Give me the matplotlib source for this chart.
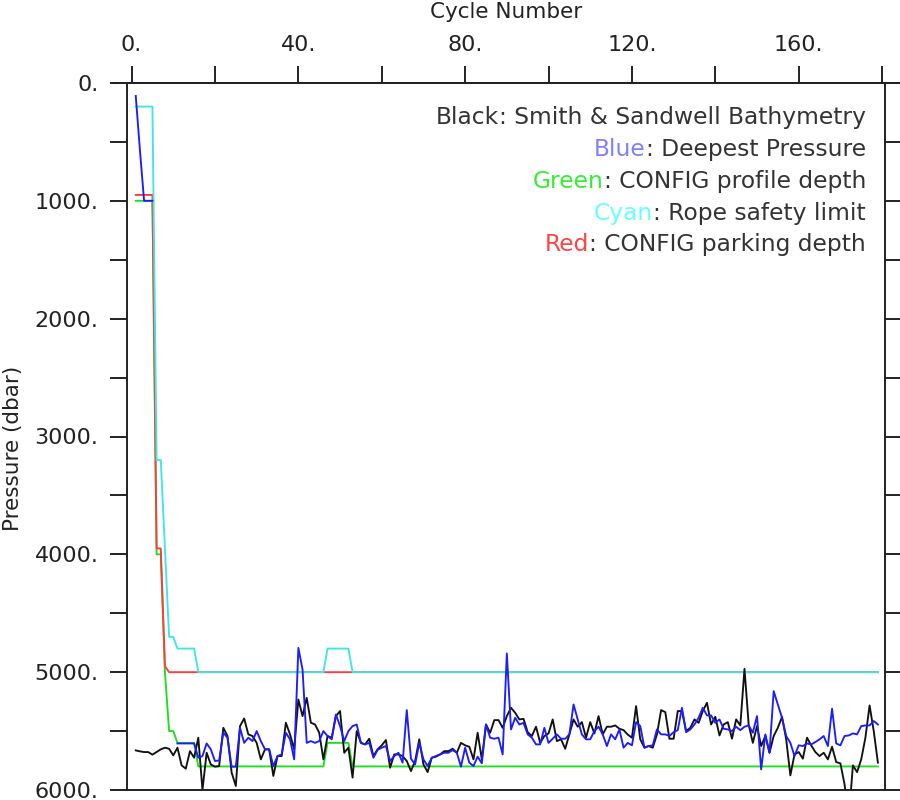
import numpy as np
import matplotlib
matplotlib.use("Agg")
import matplotlib.pyplot as plt
from matplotlib.ticker import MultipleLocator, FuncFormatter
from matplotlib.lines import Line2D

# ---------------- data ----------------
cycles = np.arange(1, 180)

bathymetry = [
    5664, 5672, 5678, 5678, 5700, 5678, 5655, 5641, 5650, 5706,
    5641, 5791, 5819, 5670, 5726, 5556, 6000, 5684, 5783, 5802,
    5797, 5472, 5542, 5853, 5966, 5458, 5393, 5528, 5542, 5600,
    5740, 5655, 5655, 5881, 5712, 5712, 5429, 5528, 5655, 5232,
    5373, 5218, 5429, 5444, 5514, 5740, 5542, 5556, 5373, 5330,
    5684, 5641, 5895, 5500, 5600, 5613, 5565, 5712, 5655, 5621,
    5576, 5811, 5698, 5698, 5712, 5754, 5839, 5754, 5570, 5783,
    5848, 5726, 5717, 5698, 5670, 5670, 5650, 5684, 5600, 5621,
    5633, 5740, 5514, 5740, 5444, 5514, 5407, 5407, 5472, 5373,
    5302, 5345, 5401, 5396, 5509, 5542, 5463, 5600, 5542, 5520,
    5401, 5585, 5570, 5650, 5528, 5401, 5463, 5424, 5556, 5424,
    5520, 5373, 5528, 5463, 5463, 5452, 5480, 5492, 5530, 5556,
    5288, 5570, 5641, 5627, 5641, 5528, 5322, 5339, 5565, 5565,
    5330, 5330, 5500, 5472, 5401, 5430, 5330, 5260, 5444, 5379,
    5537, 5444, 5424, 5565, 5401, 5452, 4972, 5444, 5600, 5458,
    5627, 5542, 5684, 5542, 5472, 5379, 5570, 5876, 5698, 5678,
    5734, 5556, 5621, 5678, 5712, 5684, 5740, 5633, 5763, 5774,
    5952, 6250, 5791, 5848, 5740, 5556, 5282, 5500, 5768,
]

deepest_pressure = [
    110, 570, 1000, 1000, 1000, np.nan, np.nan, np.nan, np.nan, np.nan,
    5605, 5605, 5605, 5605, 5605, 5726, 5712, 5605, 5655, 5754,
    5750, 5514, 5556, 5802, 5802, 5472, 5600, 5556, 5585, 5500,
    5585, 5655, 5655, 5797, 5712, 5698, 5514, 5570, 5740, 4794,
    4977, 5600, 5585, 5600, 5585, 5500, 5542, 5570, 5359, 5458,
    5585, 5500, 5458, 5444, 5600, 5613, 5600, 5726, 5660, 5641,
    5627, 5754, 5712, 5684, 5768, 5322, 5734, 5783, 5600, 5740,
    5797, 5726, 5712, 5698, 5684, 5684, 5661, 5684, 5802, 5641,
    5768, 5797, 5717, 5774, 5444, 5556, 5565, 5556, 5698, 4842,
    5486, 5387, 5444, 5430, 5528, 5556, 5613, 5613, 5472, 5600,
    5565, 5528, 5565, 5565, 5528, 5274, 5401, 5528, 5570, 5570,
    5500, 5463, 5528, 5627, 5528, 5570, 5486, 5641, 5600, 5621,
    5424, 5458, 5641, 5627, 5621, 5486, 5528, 5528, 5542, 5509,
    5492, 5302, 5509, 5486, 5444, 5387, 5302, 5367, 5367, 5430,
    5401, 5480, 5486, 5500, 5463, 5492, 5463, 5452, 5514, 5373,
    5825, 5528, 5684, 5161, 5274, 5387, 5542, 5600, 5712, 5621,
    5627, 5605, 5613, 5593, 5570, 5542, 5627, 5310, 5605, 5621,
    5542, 5537, 5520, 5528, 5458, 5452, 5452, 5415, 5444,
]

# CONFIG values, stored as (value, number of consecutive cycles)
profile_values = [1000, 4000, 5000, 5500, 5600, 5800, 5600, 5800]
profile_runs   = [5, 2, 1, 2, 5, 31, 6, 127]
park_values    = [950, 3950, 4950, 5000]
park_runs      = [5, 2, 1, 171]
rope_values    = [200, 3200, 3950, 4700, 4800, 5000, 4800, 5000]
rope_runs      = [5, 2, 1, 2, 5, 31, 6, 127]

profile_depth = np.repeat(profile_values, profile_runs)
park_depth = np.repeat(park_values, park_runs)
rope_limit = np.repeat(rope_values, rope_runs)

x_ticks_labelled = 40
y_ticks_labelled = 1000

# ---------------- figure ----------------
W, H = 900, 800
fig = plt.figure(figsize=(9, 8), dpi=100)
ax = fig.add_axes([127 / W, 10 / H, 758 / W, 707 / H])

lw = 1.35
ax.plot(cycles, profile_depth, color="#1ee01e", lw=lw, zorder=2)
ax.plot(cycles, park_depth, color="#ff3b3b", lw=lw, zorder=2.1)
ax.plot(cycles, rope_limit, color="#3fe6e6", lw=lw, zorder=2.2)
ax.plot(cycles, bathymetry, color="#111111", lw=lw, zorder=2.3)
ax.plot(cycles, deepest_pressure, color="#1c1cff", lw=lw, zorder=2.4)

ax.set_xlim(-1.1, 180.7)
ax.set_ylim(6000, 0)

ax.xaxis.set_major_locator(MultipleLocator(20))
ax.yaxis.set_major_locator(MultipleLocator(500))
ax.xaxis.set_major_formatter(FuncFormatter(
    lambda v, p: f"{int(round(v))}." if round(v) % x_ticks_labelled == 0 else ""))
ax.yaxis.set_major_formatter(FuncFormatter(
    lambda v, p: f"{int(round(v))}." if round(v) % y_ticks_labelled == 0 else ""))

tick_color = "#222222"
ax.tick_params(axis="x", which="major", top=True, bottom=False,
               labeltop=True, labelbottom=False, direction="out",
               length=12.5, width=1.4, pad=8, labelsize=16,
               colors=tick_color)
ax.tick_params(axis="y", which="major", left=True, right=True,
               labelleft=True, labelright=False, direction="out",
               length=12.5, width=1.4, pad=8, labelsize=16,
               colors=tick_color)
for sp in ax.spines.values():
    sp.set_linewidth(1.4)
    sp.set_color(tick_color)

# top axis line extends beyond the box, as in the reference
fig.add_artist(Line2D([114 / W, 1.0], [1 - 83 / H, 1 - 83 / H],
                      color=tick_color, lw=1.4))

# axis titles
fig.text(506 / W, 1 - 12 / H, "Cycle Number", ha="center", va="center",
         fontsize=15.5, color="#222222")
fig.text(13 / W, 1 - 448 / H, "Pressure (dbar)", ha="center", va="center",
         rotation=90, fontsize=15.5, color="#222222")

# colour-keyed annotation lines (baseline aligned)
legend_keys = ["Black", "Blue", "Green", "Cyan", "Red"]
legend_texts = [": Smith & Sandwell Bathymetry", ": Deepest Pressure",
                ": CONFIG profile depth", ": Rope safety limit",
                ": CONFIG parking depth"]
legend_colors = ["#333333", "#8080ff", "#33ee33", "#66ffff", "#ff4444"]
legend_baseline = [124, 156, 188, 220, 251]

renderer = fig.canvas.get_renderer()
x_right = 866 / W
for key, txt, col, yy in zip(legend_keys, legend_texts, legend_colors, legend_baseline):
    t = fig.text(x_right, 1 - yy / H, txt, ha="right", va="baseline",
                 fontsize=16.8, color="#333333")
    bb = t.get_window_extent(renderer=renderer)
    fig.text(bb.x0 / W, 1 - yy / H, key, ha="right", va="baseline",
             fontsize=16.8, color=col)

fig.savefig("out.png", dpi=100)
